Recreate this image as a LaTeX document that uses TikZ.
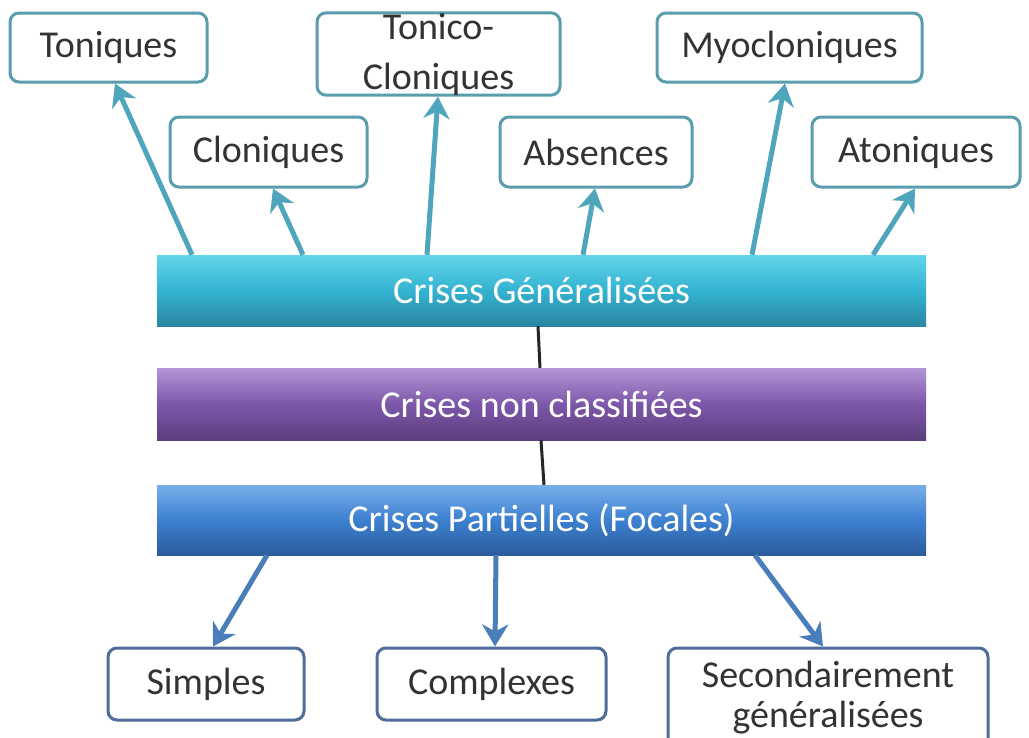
\documentclass[tikz,border=0pt]{standalone}
\usepackage{fontspec}
\setmainfont{Carlito}
\usetikzlibrary{arrows.meta,calc}
\definecolor{tealbd}{HTML}{5A9EAE}
\definecolor{tealar}{HTML}{4FA6BC}
\definecolor{bluebd}{HTML}{4F6E9C}
\definecolor{bluear}{HTML}{4A7EBB}
\definecolor{txtgray}{HTML}{333333}
\definecolor{genT}{HTML}{62D6EA}
\definecolor{genM}{HTML}{33B3D1}
\definecolor{genB}{HTML}{2A86A0}
\definecolor{ncT}{HTML}{B596D8}
\definecolor{ncM}{HTML}{7C57A9}
\definecolor{ncB}{HTML}{5C3F7D}
\definecolor{paT}{HTML}{79AEEA}
\definecolor{paM}{HTML}{3C80D0}
\definecolor{paB}{HTML}{2C5C9C}
\tikzset{
  lbl/.style={font=\fontsize{38}{50}\selectfont, text=txtgray, align=center, inner sep=0pt},
  topbox/.style={lbl, draw=tealbd, line width=3pt, fill=white, rounded corners=9pt},
  botbox/.style={lbl, draw=bluebd, line width=3pt, fill=white, rounded corners=9pt},
  bar/.style={font=\fontsize{38}{46}\selectfont, text=white, inner sep=0pt, minimum width=769, draw=none},
  uparrow/.style={draw=tealar, line width=5pt, -{Stealth[length=22pt,width=26pt,inset=7pt]}},
  downarrow/.style={draw=bluear, line width=5pt, -{Stealth[length=22pt,width=26pt,inset=7pt]}},
  link/.style={draw=black!85, line width=3pt}
}
\begin{document}
\begin{tikzpicture}[x=1pt,y=-1pt]
\useasboundingbox (0,0) rectangle (1029,737);
\fill[white] (0,0) rectangle (1029,737);

% bars
\node[bar, minimum height=71, top color=genT, bottom color=genB, middle color=genM] (gen) at (541.5,290.5) {Crises Généralisées};
\node[bar, minimum height=72, top color=ncT, bottom color=ncB, middle color=ncM] (ncl) at (541.5,404) {Crises non classifiées};
\node[bar, minimum height=70, top color=paT, bottom color=paB, middle color=paM] (par) at (541.5,520) {Crises Partielles (Focales)};

% top boxes
\node[topbox, minimum width=197, minimum height=69] (ton) at (108.5,47.5) {Toniques};
\node[topbox, minimum width=243, minimum height=82] (tc) at (438.5,54) {Tonico-\\Cloniques};
\node[topbox, minimum width=265, minimum height=69] (myo) at (789.5,47.5) {Myocloniques};
\node[topbox, minimum width=197, minimum height=70] (clo) at (268.5,152) {Cloniques};
\node[topbox, minimum width=192, minimum height=70] (abs) at (596,152) {Absences};
\node[topbox, minimum width=208, minimum height=70] (ato) at (916,152) {Atoniques};

% bottom boxes
\node[botbox, minimum width=196, minimum height=72] (sim) at (206,684) {Simples};
\node[botbox, minimum width=229, minimum height=72] (com) at (491.5,684) {Complexes};
\node[botbox, minimum width=320, minimum height=100, font=\fontsize{38}{40}\selectfont] (sec) at (828,698) {Secondairement\\généralisées};

% up arrows
\draw[uparrow] (192,0 |- gen.north) -- (115,0 |- ton.south);
\draw[uparrow] (303,0 |- gen.north) -- (273,0 |- clo.south);
\draw[uparrow] (427,0 |- gen.north) -- (438,0 |- tc.south);
\draw[uparrow] (583,0 |- gen.north) -- (595,0 |- abs.south);
\draw[uparrow] (752,0 |- gen.north) -- (785,0 |- myo.south);
\draw[uparrow] (873,0 |- gen.north) -- (915,0 |- ato.south);

% links
\draw[link] (538,0 |- gen.south) -- (540,0 |- ncl.north);
\draw[link] (541,0 |- ncl.south) -- (544,0 |- par.north);

% down arrows
\draw[downarrow] (267,0 |- par.south) -- (213,0 |- sim.north);
\draw[downarrow] (496,0 |- par.south) -- (495,0 |- com.north);
\draw[downarrow] (755,0 |- par.south) -- (823,0 |- sec.north);
\end{tikzpicture}
\end{document}
